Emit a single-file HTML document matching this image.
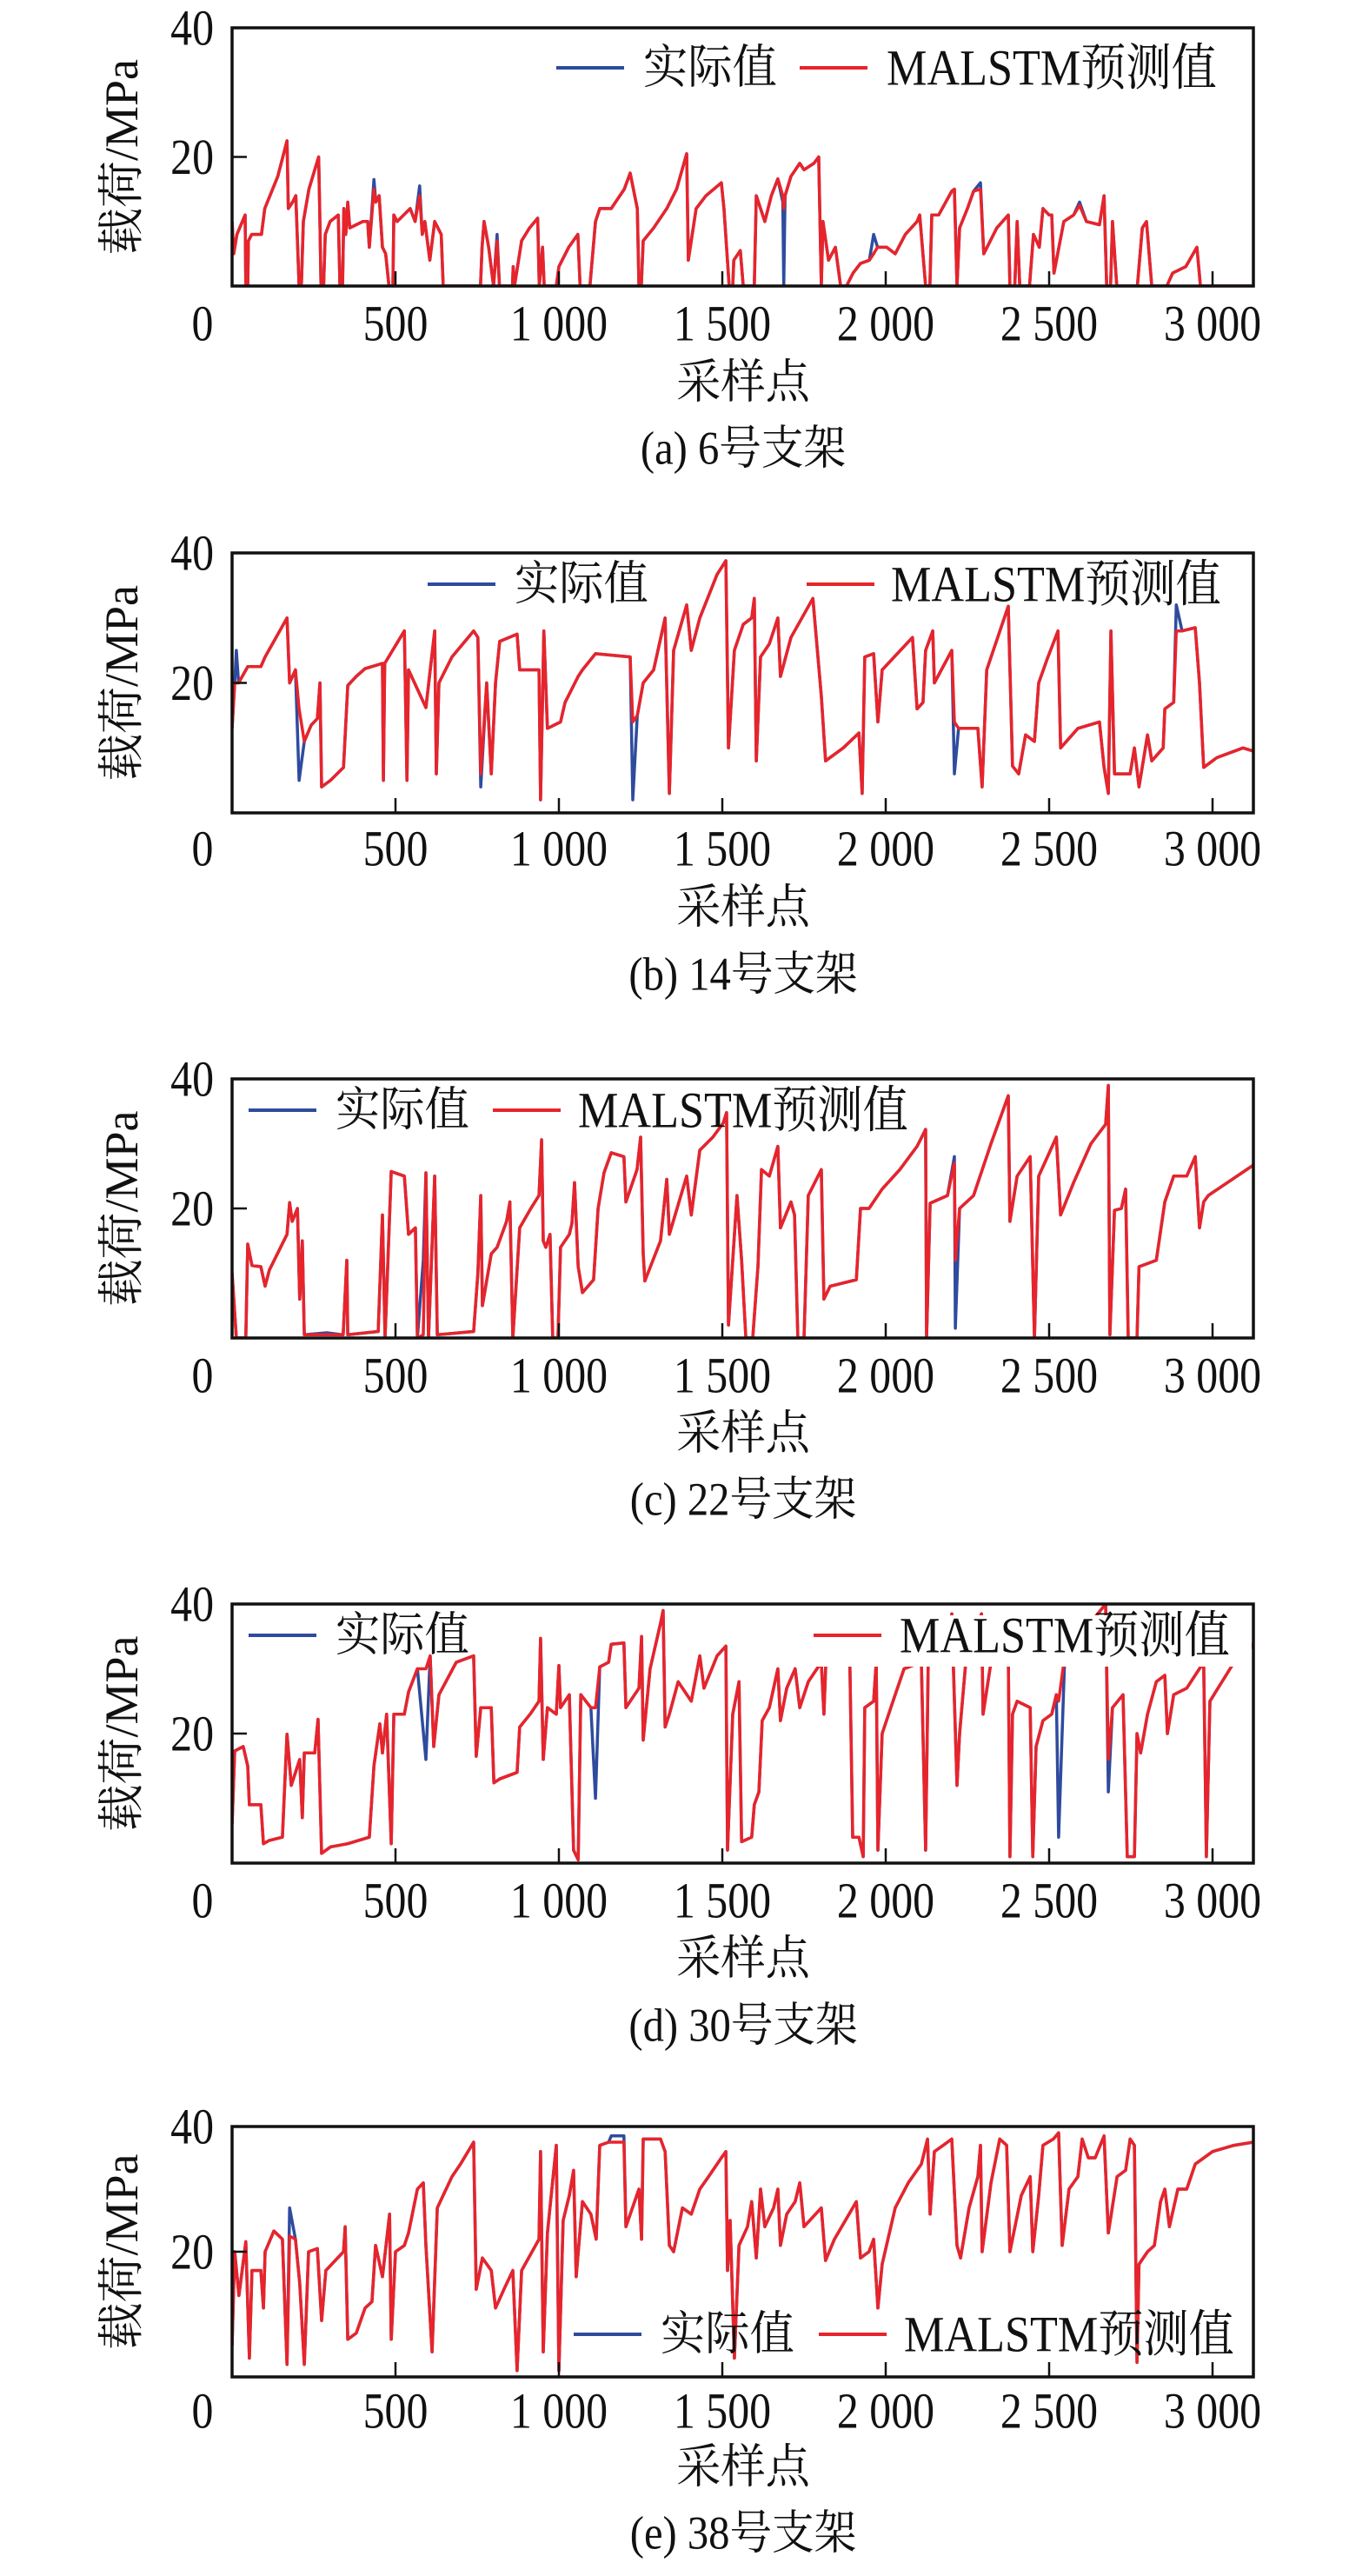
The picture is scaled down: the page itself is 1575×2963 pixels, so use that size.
<!DOCTYPE html>
<html><head><meta charset="utf-8">
<style>
html,body{margin:0;padding:0;background:#fff;}
svg{display:block;}
text{font-family:"Liberation Serif","Noto Serif CJK SC","Noto Sans CJK SC",serif;fill:#111;}
</style></head>
<body>
<svg id="fig" width="1575" height="2963" viewBox="0 0 1575 2963" xmlns="http://www.w3.org/2000/svg"></svg>
<script>
// ---- data: [sample index, actual value, predicted value] (MPa) ----
const xTicks = [500, 1000, 1500, 2000, 2500, 3000];
const xTickLabels = ["500", "1 000", "1 500", "2 000", "2 500", "3 000"];
const yTicks = [20, 40];
const yTickLabels = ["20", "40"];
const captions = ["(a) 6号支架", "(b) 14号支架", "(c) 22号支架", "(d) 30号支架", "(e) 38号支架"];

const series_a = [[0,10,10],[5,5,5],[15,8,8],[40,11,11],[42,0,0],[48,0,0],[50,7,7],[60,8,8],[90,8,8],[100,12,12],[140,17,17],[168,22.5,22.5],[172,12,12],[185,13,13],[195,14,14],[205,0,0],[212,0,0],[218,10,10],[235,15,15],[265,20,20],[268,12,12],[272,0,0],[280,0,0],[285,8,8],[300,10,10],[325,11,11],[330,0,0],[338,0,0],[342,12,12],[348,8,8],[354,13,13],[360,9,9],[400,10,10],[415,10,10],[420,6,6],[434,16.5,15],[440,13,13],[450,14,14],[460,6,6],[470,5,5],[480,0,0],[492,0,0],[495,11,11],[505,10,10],[525,11,11],[545,12,12],[560,10,10],[574,15.5,14],[582,8,8],[590,10,10],[605,4,4],[620,10,10],[640,8,8],[646,0,0],[760,0,0],[765,6,6],[771,10,10],[785,6,6],[800,0,0],[811,8,7],[818,0,0],[858,0,0],[860,3,3],[864,0,0],[886,7,7],[910,9,9],[935,10.5,10.5],[940,0,0],[950,6,6],[955,0,0],[992,0,0],[1000,3,3],[1030,6,6],[1058,8,8],[1065,0,0],[1095,0,0],[1112,10,10],[1125,12,12],[1160,12,12],[1200,15,15],[1218,17.5,17.5],[1240,12,12],[1245,0,0],[1252,0,0],[1258,7,7],[1290,9,9],[1330,12,12],[1360,15,15],[1391,20.5,20.5],[1396,4,4],[1420,12,12],[1450,14,14],[1497,16,16],[1505,12,12],[1521,0,0],[1532,0,0],[1535,4,4],[1555,5.5,5.5],[1564,0,0],[1598,0,0],[1604,14,14],[1630,10,10],[1650,14,14],[1670,16.6,16.6],[1685,13,14],[1688,0,12],[1692,14,14],[1710,17,17],[1737,19,19],[1750,18,18],[1780,19,19],[1795,20,20],[1803,0,0],[1808,10,10],[1825,4,4],[1846,6,6],[1862,0,0],[1880,0,0],[1900,2,2],[1923,3.5,3.5],[1950,4,4],[1963,8,5],[1975,6,6],[2003,6,6],[2029,5,5],[2060,8,8],[2096,10,10],[2104,11,11],[2122,0,0],[2135,0,0],[2141,11,11],[2162,11,11],[2202,14.7,14.7],[2210,15,15],[2218,0,0],[2226,9,9],[2250,12,12],[2269,14.7,14.7],[2290,16,15],[2300,5,5],[2340,9,9],[2375,11,11],[2380,0,0],[2395,0,0],[2402,10,10],[2410,0,0],[2440,0,0],[2452,8,8],[2470,6,6],[2481,12,12],[2500,11,11],[2508,11,11],[2515,2,2],[2545,10,10],[2575,11,11],[2593,13,12.5],[2614,10,10],[2654,9.5,9.5],[2668,14,14],[2676,0,0],[2688,0,0],[2694,10,10],[2707,0,0],[2770,0,0],[2785,9,9],[2798,10,10],[2814,0,0],[2860,0,0],[2878,2,2],[2918,3,3],[2952,6,6],[2963,0,0],[3125,0,0]];

const series_b = [[0,13,13],[8,20,20],[13,25,20],[20,20,20],[48,22.5,22.5],[88,22.5,22.5],[101,24,24],[168,30,30],[176,20,20],[194,22,22],[205,5,16],[221,11,11],[242,13.5,13.5],[261,14.5,14.5],[269,20,20],[274,4,4],[301,5,5],[341,7,7],[354,19.6,19.6],[380,21,21],[407,22.2,22.2],[460,23,23],[463,5,5],[467,23,23],[527,28,28],[535,5,5],[540,22,22],[593,16.2,16.2],[620,28,28],[625,6,6],[633,20,20],[673,24,24],[739,28,28],[752,27,27],[761,4,6],[779,20,20],[793,6,6],[806,20,20],[819,26.4,26.4],[872,27.5,27.5],[880,22,22],[939,22,22],[944,2,2],[954,28,28],[965,13,13],[1005,14,14],[1019,17,17],[1059,21,21],[1072,22,22],[1112,24.5,24.5],[1218,24,24],[1226,2,14],[1240,15,15],[1258,20,20],[1290,22,22],[1325,30,30],[1338,3,3],[1351,25,25],[1391,32,32],[1405,25,25],[1431,30,30],[1484,36.7,36.7],[1511,38.8,38.8],[1519,10,10],[1537,25,25],[1564,29,29],[1590,30,30],[1598,33,33],[1604,8,8],[1617,24,24],[1644,26,26],[1670,30,30],[1678,21,21],[1710,27,27],[1777,33,33],[1803,18,18],[1816,8,8],[1870,10,10],[1918,12.3,12.3],[1928,3,3],[1936,24,24],[1963,24.5,24.5],[1976,14,14],[1989,22,22],[2082,27,27],[2096,16,16],[2114,17,17],[2122,25,25],[2144,28,28],[2149,20,20],[2202,25,25],[2210,6,14],[2223,13,13],[2282,13,13],[2295,4,4],[2309,22,22],[2375,31.8,31.8],[2388,7.2,7.2],[2407,6,6],[2428,12,12],[2455,11,11],[2468,20,20],[2495,23.8,23.8],[2527,28,28],[2535,10,10],[2588,13,13],[2654,14,14],[2668,7,7],[2681,3,3],[2689,28,28],[2700,6,6],[2748,6,6],[2761,10,10],[2775,4,4],[2801,12,12],[2814,8,8],[2849,10,10],[2854,16,16],[2881,17,17],[2889,32,28],[2907,28,28],[2947,28.5,28.5],[2960,20,20],[2973,7,7],[3013,8.5,8.5],[3093,10,10],[3125,9.5,9.5]];

const series_c = [[0,10,10],[13,0,0],[42,0,0],[48,14.5,14.5],[61,11.2,11.2],[88,11,11],[101,8,8],[114,10.5,10.5],[168,16,16],[176,20.9,20.9],[184,18,18],[200,20,20],[207,6,6],[215,15,15],[221,0.5,0.5],[290,0.8,0.5],[340,0.5,0.5],[351,12,12],[354,0.5,0.5],[447,1,1],[460,19,19],[468,0,0],[487,25.7,25.7],[527,25,25],[540,16,16],[561,17,17],[567,0,0],[585,12,0.5],[593,25.5,25.5],[601,0,0],[620,25,25],[628,0.5,0.5],[739,1,1],[752,10,10],[761,22,22],[766,5,5],[793,13,13],[811,14,14],[840,18,18],[850,21,21],[859,0,0],[880,17,17],[914,20,20],[939,22,22],[947,30.6,30.6],[952,15,15],[960,14,14],[973,16,16],[981,0,0],[997,0,0],[1005,14,14],[1032,16,16],[1040,17.7,17.7],[1048,24,24],[1059,11,11],[1072,7,7],[1106,9,9],[1120,20,20],[1138,25.5,25.5],[1160,28.6,28.6],[1199,28,28],[1205,21,21],[1239,26,26],[1250,31,31],[1258,13,13],[1263,8.8,8.8],[1311,15,15],[1330,24.5,24.5],[1338,16,16],[1391,25,25],[1405,19,19],[1431,29,29],[1471,31,31],[1503,33.2,33.2],[1513,34.8,34.8],[1519,2,2],[1545,22,22],[1559,12,12],[1572,0,0],[1593,0,0],[1609,11,11],[1620,26,26],[1644,25,25],[1670,29.6,29.6],[1678,17,17],[1710,21,21],[1721,19,19],[1731,0,0],[1750,0,0],[1763,22,22],[1803,26,26],[1811,6,6],[1830,8,8],[1910,9,9],[1923,20,20],[1949,20,20],[1989,23,23],[2043,26,26],[2096,29.6,29.6],[2122,32.2,32.2],[2125,0,0],[2136,20.8,20.8],[2189,22,22],[2210,28,27],[2213,1.5,12],[2226,20,20],[2269,22,22],[2322,30,30],[2375,37.4,37.4],[2380,18,18],[2402,25,25],[2442,28,28],[2455,0,0],[2468,25,25],[2522,31,31],[2535,19,19],[2575,24,24],[2628,30,30],[2673,33,33],[2681,39,39],[2686,0.5,0.5],[2700,19.7,19.7],[2721,20,20],[2734,23,23],[2742,0,0],[2769,0,0],[2775,11,11],[2828,12,12],[2854,21,21],[2881,25,25],[2921,25,25],[2947,28,28],[2960,17,17],[2973,21,21],[2987,22,22],[3125,26.7,26.7]];

const series_d = [[0,6,6],[8,17.3,17.3],[34,18,18],[48,15,15],[53,9,9],[88,9,9],[96,3,3],[114,3.5,3.5],[154,4,4],[168,19.9,19.9],[181,12,12],[207,16,16],[215,7,7],[221,17,17],[253,17,17],[263,22.2,22.2],[274,1.5,1.5],[301,2.5,2.5],[354,3,3],[420,4,4],[434,15,15],[452,21.5,21.5],[460,17,17],[473,23,23],[487,3,3],[495,23,23],[527,23,23],[540,26.4,26.4],[567,30,30],[593,16,30],[606,32,32],[617,18,18],[633,26,26],[686,31,31],[739,32,32],[747,16.5,16.5],[761,24,24],[793,24,24],[801,12.4,12.4],[819,13,13],[872,14,14],[880,21,21],[912,23,23],[939,25,25],[944,34.7,34.7],[952,16,16],[965,24,24],[992,23,23],[1000,30.5,30.5],[1005,24,24],[1032,26,26],[1045,2,2],[1059,0.5,0.5],[1067,26,26],[1098,24,24],[1112,10,24],[1125,30.3,30.3],[1152,31,31],[1160,33.8,33.8],[1199,34,34],[1205,24,24],[1245,27,27],[1253,35,35],[1258,19,19],[1279,30,30],[1311,37,37],[1319,39,39],[1325,21,21],[1338,23,23],[1365,28,28],[1405,25,25],[1431,32,32],[1444,27,27],[1484,32,32],[1511,33.5,33.5],[1516,2,2],[1532,23,23],[1551,28,28],[1559,3.3,3.3],[1590,4,4],[1598,9,9],[1612,11,11],[1622,22,22],[1644,24,24],[1670,30,30],[1678,22,22],[1697,27,27],[1723,30,30],[1737,24,24],[1763,28,28],[1803,31,31],[1811,23,23],[1822,38,38],[1830,31,31],[1890,32,32],[1899,4,4],[1918,4,4],[1931,1,1],[1936,24,24],[1963,25,25],[1971,31,31],[1976,2,2],[1989,20,20],[2029,26,26],[2056,30,30],[2109,31,31],[2122,2,2],[2130,31,31],[2189,33,33],[2202,38.5,38.5],[2218,12,12],[2226,20,20],[2245,31,31],[2293,38.5,38.5],[2298,23,23],[2322,31,31],[2375,33,33],[2380,1,1],[2388,23,23],[2402,25,25],[2442,24,24],[2450,1,1],[2460,18,18],[2481,22,22],[2508,23,23],[2522,26,26],[2529,4,25],[2548,32,32],[2601,36,36],[2641,38,38],[2673,40,40],[2681,11,16],[2694,24,24],[2726,26,26],[2739,1,1],[2761,1,1],[2769,20,20],[2780,17,17],[2801,23,23],[2828,28,28],[2854,29,29],[2862,20,20],[2881,26,26],[2921,27,27],[2973,31,31],[2981,1,1],[2992,25,25],[3066,31,31],[3114,33,33],[3125,34,34]];

const series_e = [[0,5,5],[8,20,20],[21,13,13],[42,21.6,21.6],[53,3,3],[61,17,17],[88,17,17],[96,11,11],[101,20,20],[128,23.3,23.3],[154,22,22],[168,2,2],[176,27,22.5],[194,22,22],[207,15,15],[221,2,2],[234,20,20],[261,20.5,20.5],[274,9,9],[287,17,17],[341,20,20],[346,24,24],[354,6,6],[380,7,7],[407,11,11],[428,12,12],[439,21,21],[460,16,16],[482,26,26],[487,6,6],[500,20,20],[527,21,21],[540,23,23],[567,30,30],[585,31,31],[593,21,21],[612,4,4],[628,27,27],[673,32,32],[699,34,34],[739,37.5,37.5],[747,14,14],[766,19,19],[793,17,17],[806,11,11],[832,14,14],[859,17,17],[872,1,1],[886,17,17],[939,22,22],[944,36,36],[952,4,4],[965,23,23],[992,37,37],[1000,1,1],[1013,25,25],[1032,29,29],[1045,33,33],[1053,16,16],[1072,28,28],[1098,26,26],[1114,22,22],[1125,37,37],[1152,37.5,37.5],[1160,38.5,37.5],[1199,38.5,37.5],[1205,24,24],[1245,30,30],[1253,22,22],[1258,38,38],[1311,38,38],[1325,36,36],[1338,21,21],[1351,20,20],[1378,27,27],[1405,26,26],[1431,30,30],[1458,32,32],[1497,35,35],[1511,36,36],[1516,17,17],[1524,25,25],[1537,3,3],[1551,21,21],[1577,24,24],[1590,28,28],[1604,19,19],[1617,30,30],[1630,24,24],[1657,27,27],[1670,30,30],[1678,21,21],[1697,26,26],[1723,28,28],[1737,31,31],[1750,24,24],[1803,27,27],[1816,18.6,18.6],[1843,22,22],[1910,28,28],[1923,19,19],[1949,20,20],[1963,22,22],[1976,11,11],[1989,18,18],[2029,27,27],[2069,31,31],[2109,34,34],[2128,38,38],[2136,26,26],[2149,36,36],[2176,37,37],[2202,38,38],[2218,21,21],[2229,19,19],[2255,27,27],[2282,32,32],[2290,37,37],[2295,20,20],[2322,31,31],[2349,38,38],[2370,37,37],[2380,20,20],[2415,29,29],[2442,32,32],[2450,20,20],[2468,29,29],[2481,37,37],[2513,38,38],[2529,39,39],[2540,21,21],[2561,30,30],[2588,32,32],[2601,38,38],[2620,35,35],[2641,35,35],[2668,38.5,38.5],[2681,23,23],[2708,32,32],[2734,33,33],[2748,38,38],[2761,37,37],[2769,2.3,2.3],[2775,18,18],[2801,20,20],[2822,21,21],[2841,28,28],[2854,30,30],[2868,24,24],[2894,30,30],[2921,30,30],[2947,34,34],[3000,36,36],[3066,37,37],[3125,37.5,37.5]];

const allSeries = [series_a, series_b, series_c, series_d, series_e];

// ---- layout (pixels) ----
const NS = "http://www.w3.org/2000/svg";
const svg = document.getElementById("fig");
const X0 = 267, X1 = 1442, XMAX = 3125, YMAX = 40;
const panels = [
  {top:32, bot:329, lab:372, xl:440, cap:516, legY:78, b1:640, t1:740, r1:920, t2:1020, mask:null},
  {top:636, bot:935, lab:976, xl:1044, cap:1121, legY:672, b1:492, t1:592, r1:928, t2:1025, mask:null},
  {top:1241, bot:1539, lab:1582, xl:1649, cap:1725, legY:1277, b1:286, t1:386, r1:567, t2:665, mask:null},
  {top:1845, bot:2143, lab:2186, xl:2253, cap:2330, legY:1881, b1:286, t1:386, r1:936, t2:1035, mask:[925,1858,515,59]},
  {top:2446, bot:2734, lab:2773, xl:2838, cap:2914, legY:2685, b1:660, t1:760, r1:942, t2:1040, mask:null}
];
const BLUE = "#2e4b9e", RED = "#e8242b";

function mk(tag, attrs, parent){
  const el = document.createElementNS(NS, tag);
  for (const k in attrs) el.setAttribute(k, attrs[k]);
  (parent || svg).appendChild(el);
  return el;
}
function txt(str, x, y, size, anchor, parent, sx){
  const t = mk("text", {x:0, y:0, "font-size":size, "text-anchor":anchor || "middle", "dominant-baseline":"central",
    transform:"translate(" + x + "," + y + ") scale(" + (sx || 1) + ",1)"}, parent);
  t.textContent = str;
  return t;
}

panels.forEach((p, i) => {
  const g = mk("g", {});
  
  
  const xs = v => X0 + (v / XMAX) * (X1 - X0);
  const ys = v => p.bot - (v / YMAX) * (p.bot - p.top);
  const data = allSeries[i];

  const cid = "clip" + i;
  const cp = mk("clipPath", {id: cid}, g);
  mk("rect", {x:X0, y:p.top, width:X1 - X0, height:p.bot - p.top}, cp);

  const lines = mk("g", {"clip-path":"url(#" + cid + ")"}, g);
  const act = mk("polyline", {points: data.map(d => xs(d[0]).toFixed(1) + "," + ys(d[1]).toFixed(1)).join(" "), fill:"none", stroke:BLUE, "stroke-width":3.5, "stroke-linejoin":"round"}, lines);
  
  
  const pred = mk("polyline", {points: data.map(d => xs(d[0]).toFixed(1) + "," + ys(d[2]).toFixed(1)).join(" "), fill:"none", stroke:RED, "stroke-width":3.5, "stroke-linejoin":"round"}, lines);
  
  

  xTicks.forEach((v, k) => {
    const tk = mk("line", {x1:xs(v), x2:xs(v), y1:p.bot, y2:p.bot - 17, stroke:"#111", "stroke-width":2.5}, g);
    
    
    const tl = txt(xTickLabels[k], xs(v), p.lab, 58, "middle", g, 0.86);
    
    
  });
  const z = txt("0", 233, p.lab, 58, "middle", g, 0.86);
  
  
  yTicks.forEach((v, k) => {
    if (v < YMAX) {
      const tk = mk("line", {x1:X0, x2:X0 + 17, y1:ys(v), y2:ys(v), stroke:"#111", "stroke-width":2.5}, g);
      
      
    }
    const tl = txt(yTickLabels[k], 246, ys(v), 58, "end", g, 0.86);
    
    
  });

  if (p.mask) {
    const m = mk("rect", {x:p.mask[0], y:p.mask[1], width:p.mask[2], height:p.mask[3], fill:"#fff"}, g);
    
    
  }
  const lb = mk("line", {x1:p.b1, x2:p.b1 + 78, y1:p.legY, y2:p.legY, stroke:BLUE, "stroke-width":4}, g);
  
  
  const lt1 = txt("实际值", p.t1, p.legY, 54, "start", g, 0.95);
  
  
  const lr = mk("line", {x1:p.r1, x2:p.r1 + 78, y1:p.legY, y2:p.legY, stroke:RED, "stroke-width":4}, g);
  
  
  const lt2 = txt("MALSTM预测值", p.t2, p.legY, 58, "start", g, 0.9);
  
  

  const fr = mk("rect", {x:X0, y:p.top, width:X1 - X0, height:p.bot - p.top, fill:"none", stroke:"#111", "stroke-width":3.5}, g);
  
  

  const yl = txt("载荷/MPa", 0, 0, 54, "middle", g);
  yl.setAttribute("transform", "translate(140," + ((p.top + p.bot) / 2) + ") rotate(-90)");
  
  
  const xl = txt("采样点", 855, p.xl, 54, "middle", g, 0.95);
  
  
  const cap = txt(captions[i], 855, p.cap, 54, "middle", g, 0.9);
  
  
});
</script>
</body></html>
